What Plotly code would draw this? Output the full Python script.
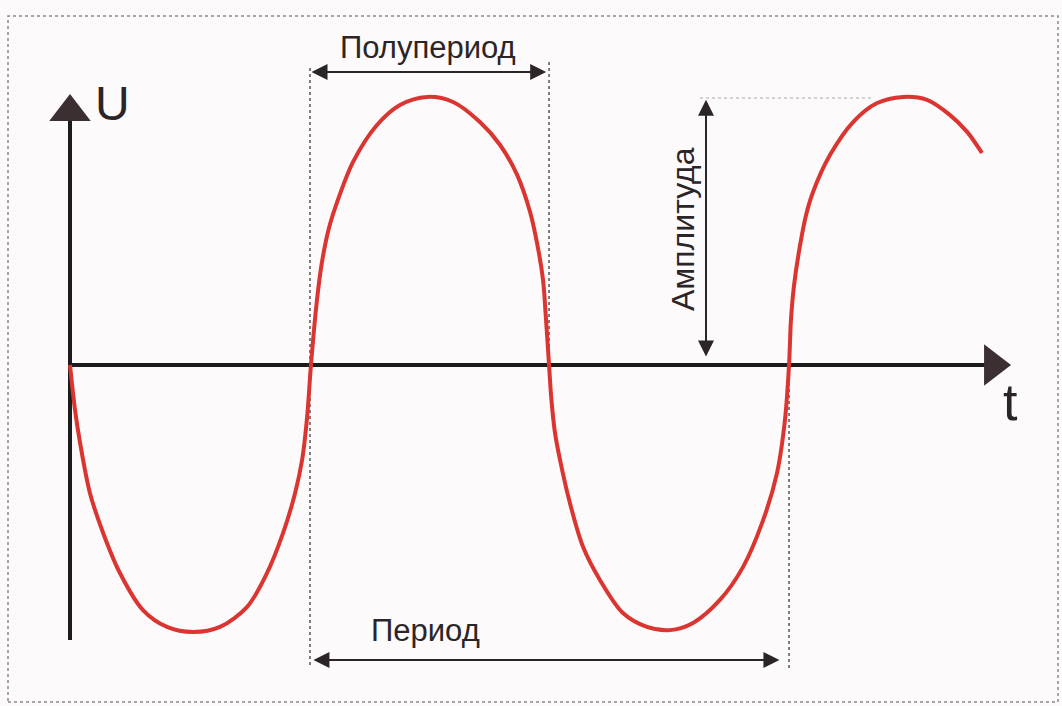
import plotly.graph_objects as go

# Curve: time t (half period = 1), voltage U (amplitude = 1)
t_vals = [0.0, 0.021, 0.042, 0.083, 0.138, 0.208, 0.304, 0.404, 0.513, 0.625, 0.738, 0.821,
          0.888, 0.938, 0.967, 0.988, 1.004,
          1.029, 1.050, 1.079, 1.113, 1.179, 1.279, 1.375, 1.488, 1.596, 1.708, 1.792, 1.863,
          1.917, 1.950, 1.971, 1.983, 1.996,
          2.006, 2.021, 2.042, 2.083, 2.138, 2.208, 2.304, 2.404, 2.5, 2.596, 2.708, 2.804,
          2.888, 2.946, 2.979, 2.996,
          3.004, 3.017, 3.042, 3.067, 3.096, 3.167, 3.263, 3.363, 3.471, 3.571, 3.667, 3.738, 3.8]
u_vals = [0.0, -0.169, -0.292, -0.479, -0.629, -0.779, -0.918, -0.981, -1.0, -0.981, -0.906, -0.779,
          -0.629, -0.479, -0.356, -0.195, 0.0,
          0.243, 0.386, 0.513, 0.610, 0.760, 0.899, 0.974, 1.004, 0.985, 0.910, 0.824, 0.712,
          0.573, 0.438, 0.318, 0.176, 0.0,
          -0.131, -0.255, -0.356, -0.517, -0.682, -0.805, -0.929, -0.981, -0.993, -0.966, -0.880, -0.757,
          -0.581, -0.404, -0.206, 0.0,
          0.169, 0.300, 0.449, 0.562, 0.648, 0.787, 0.910, 0.981, 1.004, 0.993, 0.936, 0.873, 0.794]

# Marked positions
t_zero1 = 1.0      # start of half period / period
t_zero2 = 1.996    # end of half period
t_zero3 = 2.996    # end of period
t_amp = 2.65       # amplitude arrow position
amp = 1.0

# Pixel geometry of the picture (origin and scale)
W, H = 1062, 706
X0, Y0 = 70, 365
PX_T, PX_U = 240, 267
x_range = [-X0 / PX_T, (W - X0) / PX_T]
y_range = [(Y0 - H) / PX_U, Y0 / PX_U]

INK = "#2b2527"
RED = "#da3530"
FONT = "Liberation Sans, Arial, sans-serif"

fig = go.Figure()

# Axes drawn as lines with triangular heads
fig.add_trace(go.Scatter(x=[0, 3.85], y=[0, 0], mode="lines",
                         line=dict(color="#1c1c1c", width=4), hoverinfo="skip"))
fig.add_trace(go.Scatter(x=[0, 0], y=[-1.03, 0.92], mode="lines",
                         line=dict(color="#1c1c1c", width=4), hoverinfo="skip"))
fig.add_trace(go.Scatter(x=[3.846], y=[0], mode="markers",
                         marker=dict(symbol="triangle-right", size=36, color="#3b2f32"),
                         hoverinfo="skip"))
fig.add_trace(go.Scatter(x=[0], y=[0.948], mode="markers",
                         marker=dict(symbol="triangle-up", size=36, color="#3b2f32"),
                         hoverinfo="skip"))

# Dotted guide lines
guide = dict(color="#555", width=1.5, dash="dot")
fig.add_trace(go.Scatter(x=[t_zero1, t_zero1], y=[1.112, -1.135], mode="lines",
                         line=guide, hoverinfo="skip"))
fig.add_trace(go.Scatter(x=[t_zero2, t_zero2], y=[1.135, 0], mode="lines",
                         line=guide, hoverinfo="skip"))
fig.add_trace(go.Scatter(x=[t_zero3, t_zero3], y=[0, -1.135], mode="lines",
                         line=guide, hoverinfo="skip"))
fig.add_trace(go.Scatter(x=[2.625, 3.35], y=[amp, amp], mode="lines",
                         line=dict(color="#aaa", width=1, dash="dot"), hoverinfo="skip"))

# The wave
fig.add_trace(go.Scatter(x=t_vals, y=u_vals, mode="lines", line_shape="spline",
                         line=dict(color=RED, width=4, smoothing=0.9), hoverinfo="skip"))

# Double-headed dimension arrows
def dim_arrow(x0, y0, x1, y1):
    fig.add_annotation(x=x1, y=y1, ax=x0, ay=y0, xref="x", yref="y", axref="x", ayref="y",
                       text="", showarrow=True, arrowside="end+start", arrowhead=2,
                       arrowsize=1.6, arrowwidth=2, arrowcolor=INK)

dim_arrow(t_zero1, 1.097, t_zero2 - 0.012, 1.097)
dim_arrow(t_zero1 + 0.008, -1.105, t_zero3 - 0.04, -1.105)
dim_arrow(t_amp, 0.026, t_amp, 0.993)

# Labels
fig.add_annotation(x=1.49, y=1.19, text="Полупериод", showarrow=False,
                   font=dict(family=FONT, size=31, color=INK))
fig.add_annotation(x=1.48, y=-0.995, text="Период", showarrow=False,
                   font=dict(family=FONT, size=31, color=INK))
fig.add_annotation(x=2.554, y=0.509, text="Амплитуда", showarrow=False, textangle=-90,
                   font=dict(family=FONT, size=32, color=INK))
fig.add_annotation(x=0.175, y=0.981, text="U", showarrow=False,
                   font=dict(family=FONT, size=48, color=INK))
fig.add_annotation(x=3.917, y=-0.139, text="t", showarrow=False,
                   font=dict(family=FONT, size=52, color=INK))

# Dotted frame around the picture
fig.add_shape(type="rect", xref="paper", yref="paper",
              x0=8 / W, x1=1058 / W, y0=1 - 702 / H, y1=1 - 16 / H,
              line=dict(color="#8a8a8a", width=1.5, dash="dot"))

fig.update_layout(
    width=W, height=H,
    margin=dict(l=0, r=0, t=0, b=0),
    paper_bgcolor="#fdfafb",
    plot_bgcolor="#fdfafb",
    showlegend=False,
    xaxis=dict(range=x_range, visible=False, fixedrange=True),
    yaxis=dict(range=y_range, visible=False, fixedrange=True),
)

fig.write_html("out.html", config={"displayModeBar": False},
               post_script="document.body.style.margin='0';document.body.style.overflow='hidden';")
